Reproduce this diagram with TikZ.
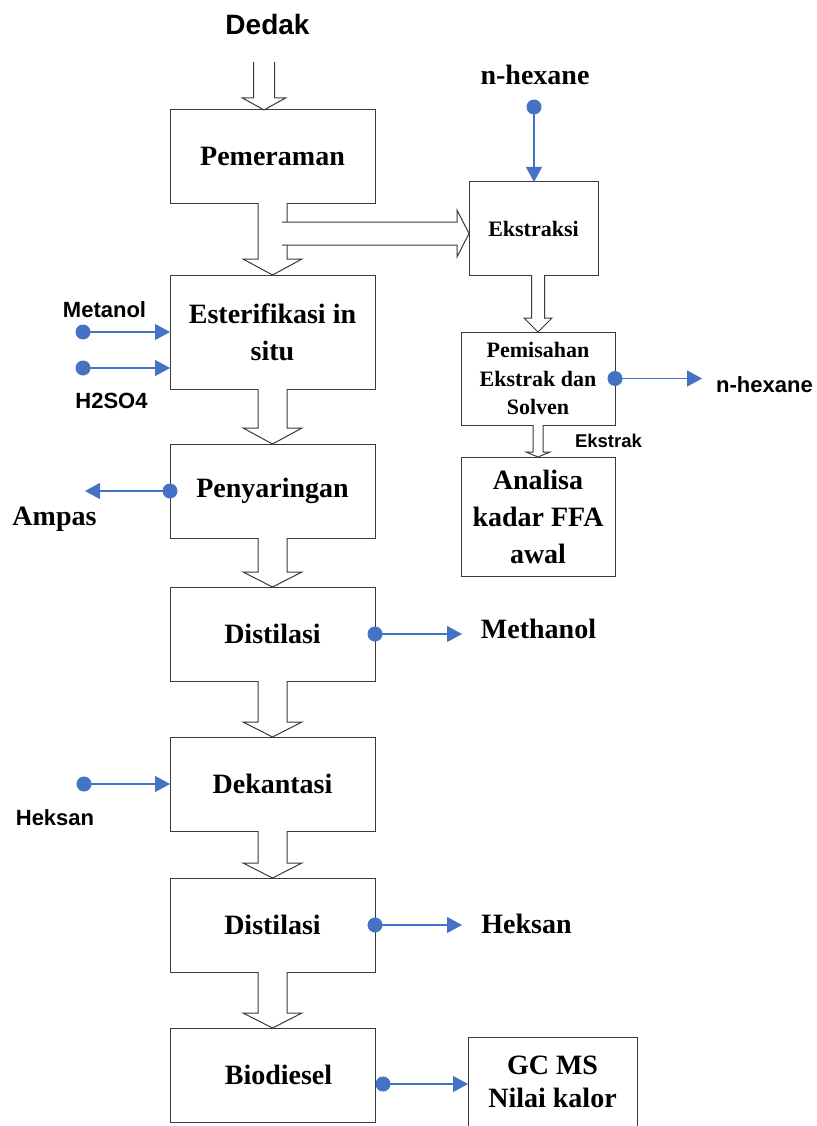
\documentclass[tikz,border=0pt]{standalone}
\usepackage{fontspec}
\setmainfont{Liberation Serif}
\setsansfont{Liberation Sans}
\usetikzlibrary{arrows.meta,positioning,calc}
\definecolor{flowblue}{HTML}{4472C4}
\definecolor{edgegray}{HTML}{3A3A3A}
\tikzset{
  procbox/.style={
    rectangle, draw=edgegray, line width=1pt, fill=white,
    minimum width=205pt, minimum height=94pt, outer sep=0pt,
    align=center, font=\bfseries\fontsize{28}{37}\selectfont, inner sep=2pt
  },
  sidebox/.style={procbox, minimum width=154pt, minimum height=93pt},
  smallbox/.style={sidebox, font=\bfseries\fontsize{22}{28.5}\selectfont},
  hollow/.style={draw=edgegray, line width=1pt},
  feed/.style={draw=flowblue, line width=1.1pt, -{Triangle[length=15pt,width=16pt]}},
  feeddot/.style={circle, fill=flowblue, inner sep=0pt, minimum size=15pt},
  sidelabel/.style={font=\sffamily\bfseries\fontsize{22}{26}\selectfont, anchor=base, inner sep=0pt},
  outlabel/.style={font=\bfseries\fontsize{28}{32}\selectfont, anchor=base, inner sep=0pt},
}
% hollow block arrow: top point, tip point, half stem, half head, head length
\newcommand{\hollowdown}[5]{%
  \fill[white] let \p1=(#1), \p2=(#2) in
    (\x2-#3pt,\y1+1pt) -- (\x2-#3pt,\y2+#5pt) -- (\x2-#4pt,\y2+#5pt) -- (\x2,\y2)
    -- (\x2+#4pt,\y2+#5pt) -- (\x2+#3pt,\y2+#5pt) -- (\x2+#3pt,\y1+1pt) -- cycle;
  \draw[hollow] let \p1=(#1), \p2=(#2) in
    (\x2-#3pt,\y1) -- (\x2-#3pt,\y2+#5pt) -- (\x2-#4pt,\y2+#5pt) -- (\x2,\y2)
    -- (\x2+#4pt,\y2+#5pt) -- (\x2+#3pt,\y2+#5pt) -- (\x2+#3pt,\y1);
}

\begin{document}
\begin{tikzpicture}[x=1pt, y=-1pt]
  \useasboundingbox (0,0) rectangle (816,1126);
  \clip (0,0) rectangle (816,1126);

  % main line
  \node (pem) [procbox, minimum height=93pt] at (272.5,156.5) {Pemeraman};
  \node (esf) [procbox, minimum height=114pt, below=72pt of pem] {Esterifikasi in\\situ};
  \node (pen) [procbox, below=55pt of esf] {Penyaringan};
  \node (dis1) [procbox, below=49pt of pen] {Distilasi};
  \node (dek) [procbox, below=56pt of dis1] {Dekantasi};
  \node (dis2) [procbox, below=47pt of dek] {Distilasi};
  \node (bio) [procbox, below=56pt of dis2] {\hspace*{12pt}Biodiesel};

  % side line
  \node (eks) [sidebox, minimum width=129pt, font=\bfseries\fontsize{22}{26}\selectfont] at (533.5,228.5) {Ekstraksi};
  \node (pms) [smallbox] at (538,378.5) {Pemisahan\\Ekstrak dan\\Solven};
  \node (ana) [sidebox, minimum height=119pt] at (538,516.5) {Analisa\\kadar FFA\\awal};
  \node (gcm) [procbox, minimum width=169pt, minimum height=120pt, font=\bfseries\fontsize{28}{33}\selectfont] at (552.5,1097) {GC MS\\Nilai kalor\\[-3pt]};

  % block arrows
  \coordinate (inTop) at (264,62);
  \coordinate (inTip) at ($(pem.north)+(-8.5,0)$);
  \hollowdown{inTop}{inTip}{10.5}{21.5}{12}
  \hollowdown{pem.south}{esf.north}{14.5}{29.5}{16}
  \filldraw[hollow, fill=white] let \p1=(pem.south), \p3=($(eks.west)+(0,5)$) in
    (\x1+9.5pt,\y3+11.5pt) -- (\x3-12pt,\y3+11.5pt) -- (\x3-12pt,\y3+23.5pt) -- (\x3,\y3)
    -- (\x3-12pt,\y3-23.5pt) -- (\x3-12pt,\y3-11.5pt) -- (\x1+9.5pt,\y3-11.5pt);
  \hollowdown{esf.south}{pen.north}{14.5}{29.5}{16}
  \hollowdown{pen.south}{dis1.north}{14.5}{29.5}{15}
  \hollowdown{dis1.south}{dek.north}{14.5}{29.5}{15}
  \hollowdown{dek.south}{dis2.north}{14.5}{29.5}{15}
  \hollowdown{dis2.south}{bio.north}{14.5}{29.5}{15}
  \hollowdown{eks.south}{pms.north}{6.5}{14}{14}
  \hollowdown{pms.south}{ana.north}{5}{12}{5}

  % feeds in and out
  \node (dMet) [feeddot] at (83,332) {};
  \node (dAsm) [feeddot] at (83,368) {};
  \node (dHex) [feeddot] at (534,107) {};
  \node (dAmp) [feeddot] at (pen.west) {};
  \node (dPms) [feeddot] at (pms.east) {};
  \node (dMeo) [feeddot] at (dis1.east) {};
  \node (dHeks) [feeddot] at (84,784) {};
  \node (dHks) [feeddot] at (dis2.east) {};
  \node (dBio) [feeddot] at ($(bio.east)+(8,9)$) {};
  \coordinate[left=85pt of pen.west] (ampEnd);
  \coordinate[right=87pt of pms.east] (pmsEnd);
  \coordinate[right=87pt of dis1.east] (meoEnd);
  \coordinate[right=87pt of dis2.east] (hksEnd);
  \draw[feed] (dMet.center) -- (dMet -| esf.west);
  \draw[feed] (dAsm.center) -- (dAsm -| esf.west);
  \draw[feed] (dHex.center) -- (dHex |- eks.north);
  \draw[feed] (dAmp.center) -- (ampEnd);
  \draw[feed] (dPms.center) -- (pmsEnd);
  \draw[feed] (dMeo.center) -- (meoEnd);
  \draw[feed] (dHeks.center) -- (dHeks -| dek.west);
  \draw[feed] (dHks.center) -- (hksEnd);
  \draw[feed] (dBio.center) -- (dBio -| gcm.west);

  % labels
  \node (lDedak) [sidelabel, font=\sffamily\bfseries\fontsize{28}{32}\selectfont] at (267.5,35) {Dedak};
  \node (lHexIn) [outlabel] at (535,85) {n-hexane};
  \node (lMet) [sidelabel] at (104.5,317) {Metanol};
  \node (lAsm) [sidelabel] at (111.5,408) {H2SO4};
  \node (lHexOut) [sidelabel] at (764.5,392) {n-hexane};
  \node (lEks) [sidelabel, font=\sffamily\bfseries\fontsize{18.5}{22}\selectfont] at (608.5,447) {Ekstrak};
  \node (lAmp) [outlabel] at (54.5,525) {Ampas};
  \node (lMeo) [outlabel] at (538.5,638) {Methanol};
  \node (lHeksIn) [sidelabel] at (55,825) {Heksan};
  \node (lHksOut) [outlabel] at (526.5,933) {Heksan};
\end{tikzpicture}
\end{document}
